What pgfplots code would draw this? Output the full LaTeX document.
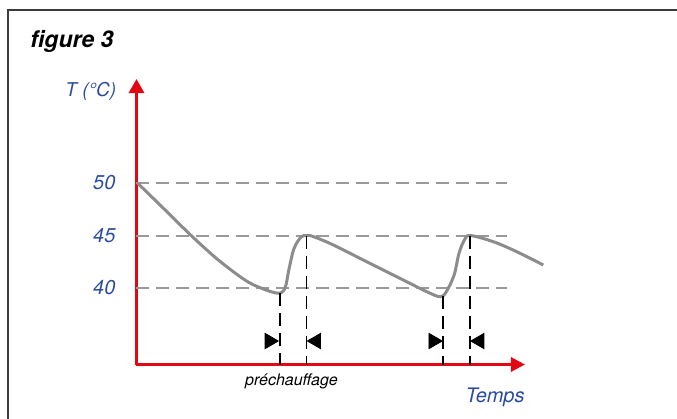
\documentclass[border=0pt]{standalone}
\usepackage{fontspec}
\setmainfont{TeX Gyre Heros}
\usepackage{pgfplots}
\pgfplotsset{compat=1.18}
\usetikzlibrary{arrows.meta}
\definecolor{axred}{HTML}{E30613}
\definecolor{txtblue}{HTML}{2B4C9E}
\definecolor{curvegray}{HTML}{8C8C8C}
\definecolor{dashgray}{HTML}{999999}
\definecolor{framegray}{HTML}{3C3C3C}
\begin{document}
\begin{tikzpicture}
\useasboundingbox (-68.25pt,-27.25pt) rectangle (270.25pt,182.25pt);
\begin{axis}[
  at={(0,0)}, anchor=south west,
  scale only axis, width=194.25pt, height=142.75pt,
  xmin=0, xmax=388.5, ymin=32.714, ymax=59.905,
  axis lines=left,
  axis line style={draw=axred, line width=1.5pt},
  x axis line style={-{Triangle[length=7pt,width=7pt]}},
  y axis line style={-{Triangle[length=7pt,width=7.5pt]}},
  xtick=\empty,
  ytick={40,45,50},
  major tick length=0pt,
  yticklabel style={font=\fontsize{10}{12}\selectfont\itshape, text=txtblue, xshift=-7pt},
  /pgf/number format/assume math mode=true,
  clip=false,
]
% dashed reference levels
\addplot[dashgray, line width=1pt, dash pattern=on 6.5pt off 3.5pt] coordinates {(0,50) (370.5,50)};
\addplot[dashgray, line width=1pt, dash pattern=on 6.5pt off 3.5pt] coordinates {(0,45) (370.5,45)};
\addplot[dashgray, line width=1pt, dash pattern=on 6.5pt off 3.5pt] coordinates {(0,40) (370.5,40)};
% temperature curve
\addplot[curvegray, line width=1.5pt, smooth, tension=0.55] coordinates {
 (1,50.0) (28,47.49) (55.2,44.95) (81.8,42.67) (108.5,40.76) (125.2,39.97)
 (141.8,39.50) (148.5,40.0) (152.5,41.8) (157.5,43.75) (164.5,44.85) (170.2,45.0)
 (176.8,44.9) (196.8,44.10) (230.2,42.50) (263.5,40.92) (290.2,39.65) (303.5,39.17)
 (309.5,39.6) (317.5,41.2) (322.5,43.3) (327.8,44.55) (333.5,45.0)
 (356.8,44.41) (380.2,43.46) (406.8,42.19)
};
% vertical dashed markers
\addplot[black, line width=0.8pt, dash pattern=on 6.5pt off 3.5pt] coordinates {(143.5,39.5) (143.5,32.714)};
\addplot[black, line width=0.8pt, dash pattern=on 6.5pt off 3.5pt] coordinates {(170.2,45.0) (170.2,32.714)};
\addplot[black, line width=0.8pt, dash pattern=on 6.5pt off 3.5pt] coordinates {(306.8,39.2) (306.8,32.714)};
\addplot[black, line width=0.8pt, dash pattern=on 6.5pt off 3.5pt] coordinates {(333.5,45.0) (333.5,32.714)};
% triangles
\addplot[only marks, mark=triangle*, mark size=4.4pt, mark options={rotate=-90, fill=black, draw=none}] coordinates {(133,34.95) (296.9,34.95)};
\addplot[only marks, mark=triangle*, mark size=4.4pt, mark options={rotate=90, fill=black, draw=none}] coordinates {(179.7,34.95) (343.1,34.95)};
% texts
\node[anchor=base west, inner sep=0pt, font=\fontsize{11.5}{13}\selectfont\bfseries\itshape] at (axis cs:-106.5,62.95) {figure 3};
\node[anchor=base west, inner sep=0pt, text=txtblue, font=\fontsize{9.5}{11}\selectfont\itshape] at (axis cs:-71.5,58.24) {T (°C)};
\node[anchor=base, inner sep=0pt, font=\fontsize{8}{9}\selectfont\itshape] at (axis cs:155,30.76) {préchauffage};
\node[anchor=base east, inner sep=0pt, text=txtblue, font=\fontsize{10}{12}\selectfont\itshape] at (axis cs:388.5,29.08) {Temps};
% frame
\draw[framegray, line width=0.7pt] (axis cs:-128.5,20) -- (axis cs:-128.5,66.476) -- (axis cs:560,66.476);
\end{axis}
\end{tikzpicture}
\end{document}
